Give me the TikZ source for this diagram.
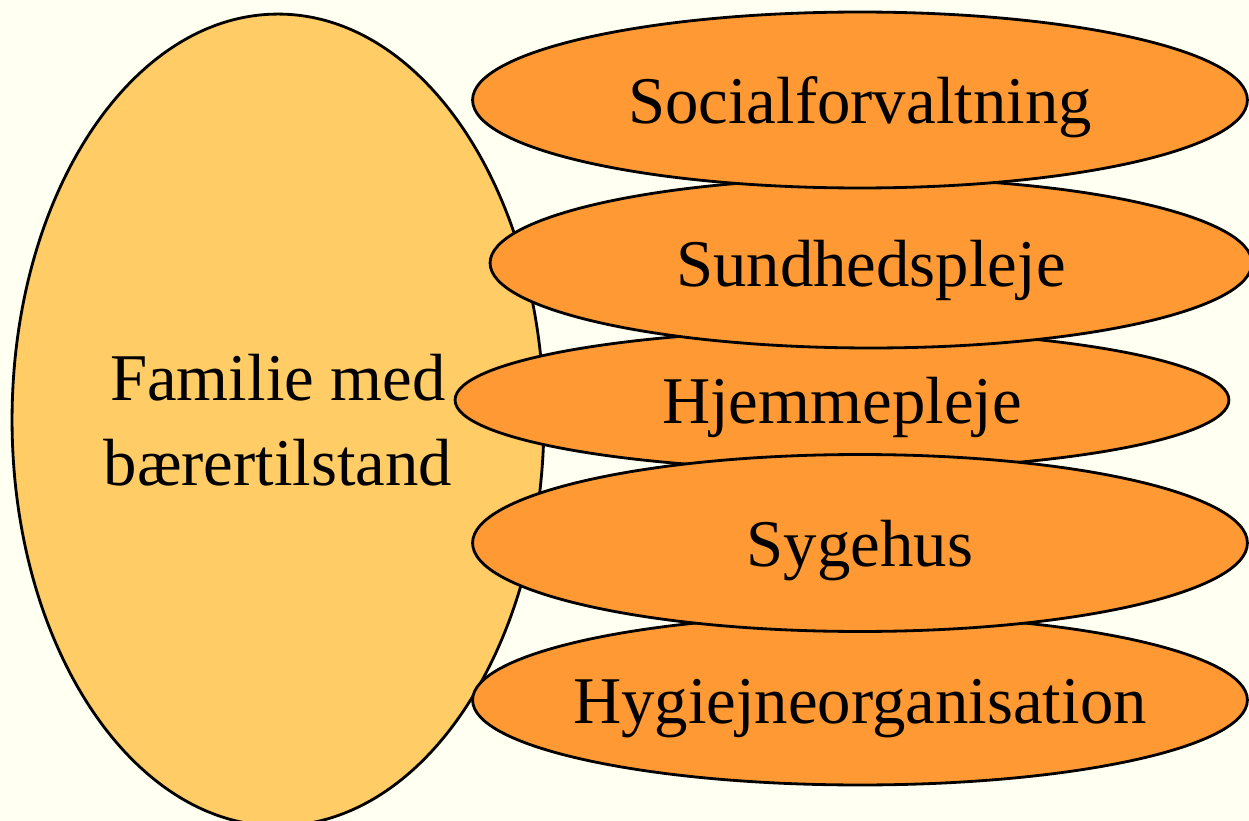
\documentclass[tikz,border=0pt]{standalone}
\usepackage{fontspec}
\setmainfont{Liberation Serif}
\usetikzlibrary{shapes.geometric}
\definecolor{page-bg}{HTML}{FFFFF2}
\definecolor{family-fill}{HTML}{FFCC66}
\definecolor{unit-fill}{HTML}{FF9933}

\begin{document}
\begin{tikzpicture}[x=0.02cm, y=-0.02cm,
    every node/.style={font=\fontsize{38pt}{48pt}\selectfont},
    unit/.style={draw, ellipse, fill=unit-fill, line width=1.6pt,
                 inner ysep=0pt, inner xsep=-2cm, text height=1.24cm, text depth=0.29cm}]
    \fill[page-bg] (0,0) rectangle (1249,821);
    \clip (0,0) rectangle (1249,821);
    % the family
    \node[draw, ellipse, fill=family-fill, line width=1.6pt, inner sep=0pt,
          minimum width=10.64cm, minimum height=16.24cm, align=center]
          (family) at (278,420) {Familie med\\ bærertilstand};
    % the services, back to front
    \node[unit, minimum width=15.48cm, minimum height=2.8cm] (hjemme) at (842,400) {Hjemmepleje};
    \node[unit, minimum width=15.5cm, minimum height=3.4cm] (hygiejne) at (860,700) {Hygiejneorganisation};
    \node[unit, minimum width=15.24cm, minimum height=3.4cm] (sundhed) at (871,263) {Sundhedspleje};
    \node[unit, minimum width=15.5cm, minimum height=3.54cm] (sygehus) at (860,543) {Sygehus};
    \node[unit, minimum width=15.5cm, minimum height=3.52cm] (social) at (860,100) {Socialforvaltning};
\end{tikzpicture}
\end{document}
